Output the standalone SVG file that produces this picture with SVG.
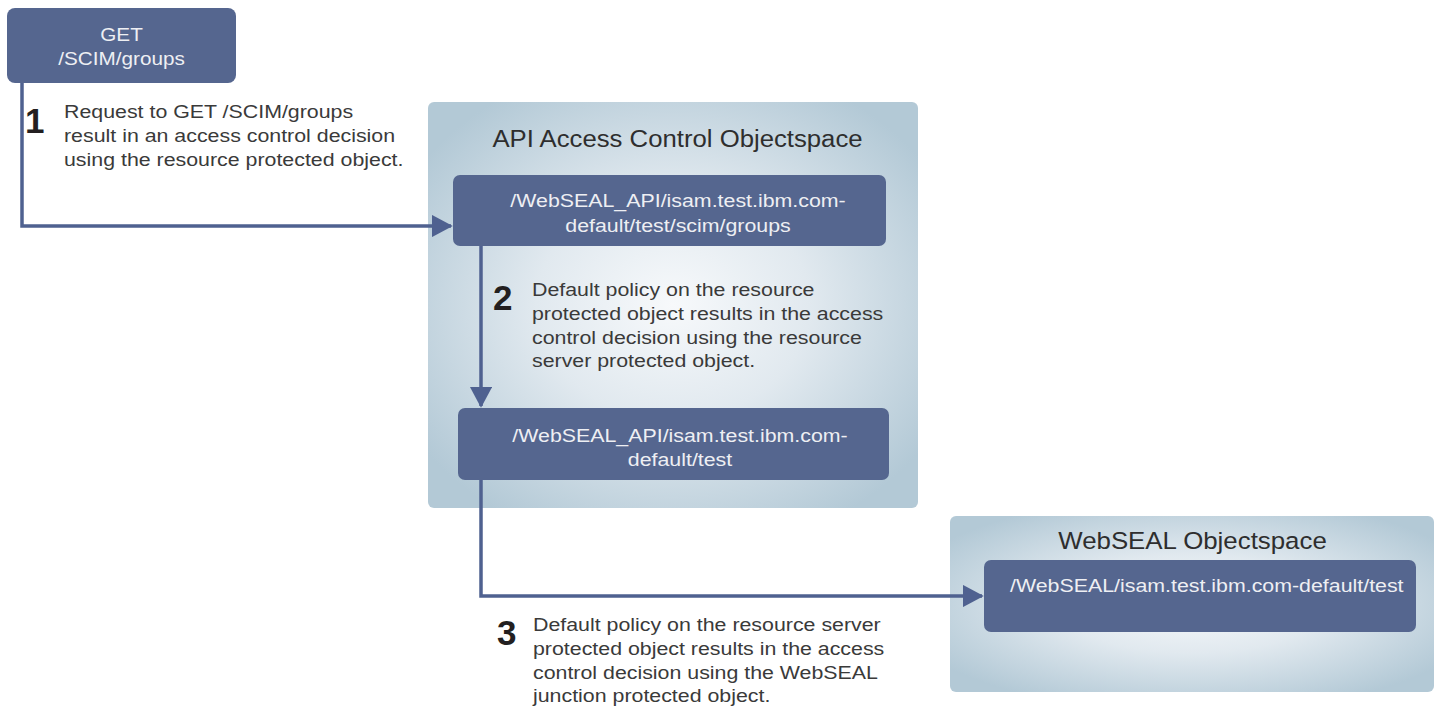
<svg xmlns="http://www.w3.org/2000/svg" width="1439" height="707" viewBox="0 0 1439 707">
<defs>
<radialGradient id="cg" cx="0.5" cy="0.5" r="0.62">
<stop offset="0" stop-color="#f7f9fb"/>
<stop offset="0.45" stop-color="#e1e9ef"/>
<stop offset="1" stop-color="#b3c9d6"/>
</radialGradient>
<marker id="ah" markerWidth="6" markerHeight="6.4" refX="5.5" refY="3.2" orient="auto" markerUnits="strokeWidth">
<path d="M0,0 L6,3.2 L0,6.4 Z" fill="#4f6190"/>
</marker>
<style>
.cont{fill:url(#cg);}
.box{fill:#55668f;}
.bt{font-family:"Liberation Sans",Arial,sans-serif;font-size:18.5px;fill:#eeeff3;text-anchor:middle;}
.bts{font-family:"Liberation Sans",Arial,sans-serif;font-size:18.5px;fill:#eeeff3;}
.title{font-family:"Liberation Sans",Arial,sans-serif;font-size:23.5px;fill:#2e2e2e;text-anchor:middle;}
.num{font-family:"Liberation Sans",Arial,sans-serif;font-size:35px;font-weight:bold;fill:#231f20;}
.lt{font-family:"Liberation Sans",Arial,sans-serif;font-size:18.5px;fill:#3a3a3a;}
.con{fill:none;stroke:#4f6190;stroke-width:3.5;marker-end:url(#ah);}
</style>
</defs>
<g id="api-container">
<rect class="cont" x="428" y="102" width="490" height="406" rx="6"/>
<g transform="translate(677.5,147) scale(1.095,1)"><text class="title" x="0" y="0">API Access Control Objectspace</text></g>
</g>
<g id="webseal-container">
<rect class="cont" x="950" y="516" width="484" height="176" rx="6"/>
<g transform="translate(1192.5,549) scale(1.1,1)"><text class="title" x="0" y="0">WebSEAL Objectspace</text></g>
</g>
<g id="connectors">
<path class="con" d="M22,83 V226 H451"/>
<path class="con" d="M481,246 V406"/>
<path class="con" d="M481,480 V596 H982"/>
</g>
<g id="get-node">
<rect class="box" x="7" y="8" width="229" height="75" rx="8"/>
<g transform="translate(121.5,0) scale(1.12,1)">
<text class="bt" x="0" y="41">GET</text>
<text class="bt" x="0" y="65">/SCIM/groups</text>
</g>
</g>
<g id="api-groups-node">
<rect class="box" x="453" y="175" width="433" height="71" rx="7"/>
<g transform="translate(678,0) scale(1.155,1)">
<text class="bt" x="0" y="207">/WebSEAL_API/isam.test.ibm.com-</text>
<text class="bt" x="0" y="232">default/test/scim/groups</text>
</g>
</g>
<g id="api-test-node">
<rect class="box" x="458" y="408" width="431" height="72" rx="7"/>
<g transform="translate(680,0) scale(1.155,1)">
<text class="bt" x="0" y="442">/WebSEAL_API/isam.test.ibm.com-</text>
<text class="bt" x="0" y="466">default/test</text>
</g>
</g>
<g id="webseal-node">
<rect class="box" x="984" y="560" width="432" height="72" rx="7"/>
<g transform="translate(1010,0) scale(1.155,1)">
<text class="bts" x="0" y="592">/WebSEAL/isam.test.ibm.com-default/test</text>
</g>
</g>
<g id="label-1">
<text class="num" x="25" y="133">1</text>
<g transform="translate(64,0) scale(1.155,1)">
<text class="lt" x="0" y="118">Request to GET /SCIM/groups</text>
<text class="lt" x="0" y="142">result in an access control decision</text>
<text class="lt" x="0" y="166">using the resource protected object.</text>
</g>
</g>
<g id="label-2">
<text class="num" x="493" y="310">2</text>
<g transform="translate(532,0) scale(1.155,1)">
<text class="lt" x="0" y="296">Default policy on the resource</text>
<text class="lt" x="0" y="320">protected object results in the access</text>
<text class="lt" x="0" y="344">control decision using the resource</text>
<text class="lt" x="0" y="367">server protected object.</text>
</g>
</g>
<g id="label-3">
<text class="num" x="497" y="645">3</text>
<g transform="translate(533,0) scale(1.155,1)">
<text class="lt" x="0" y="631">Default policy on the resource server</text>
<text class="lt" x="0" y="655">protected object results in the access</text>
<text class="lt" x="0" y="679">control decision using the WebSEAL</text>
<text class="lt" x="0" y="702">junction protected object.</text>
</g>
</g>
</svg>
